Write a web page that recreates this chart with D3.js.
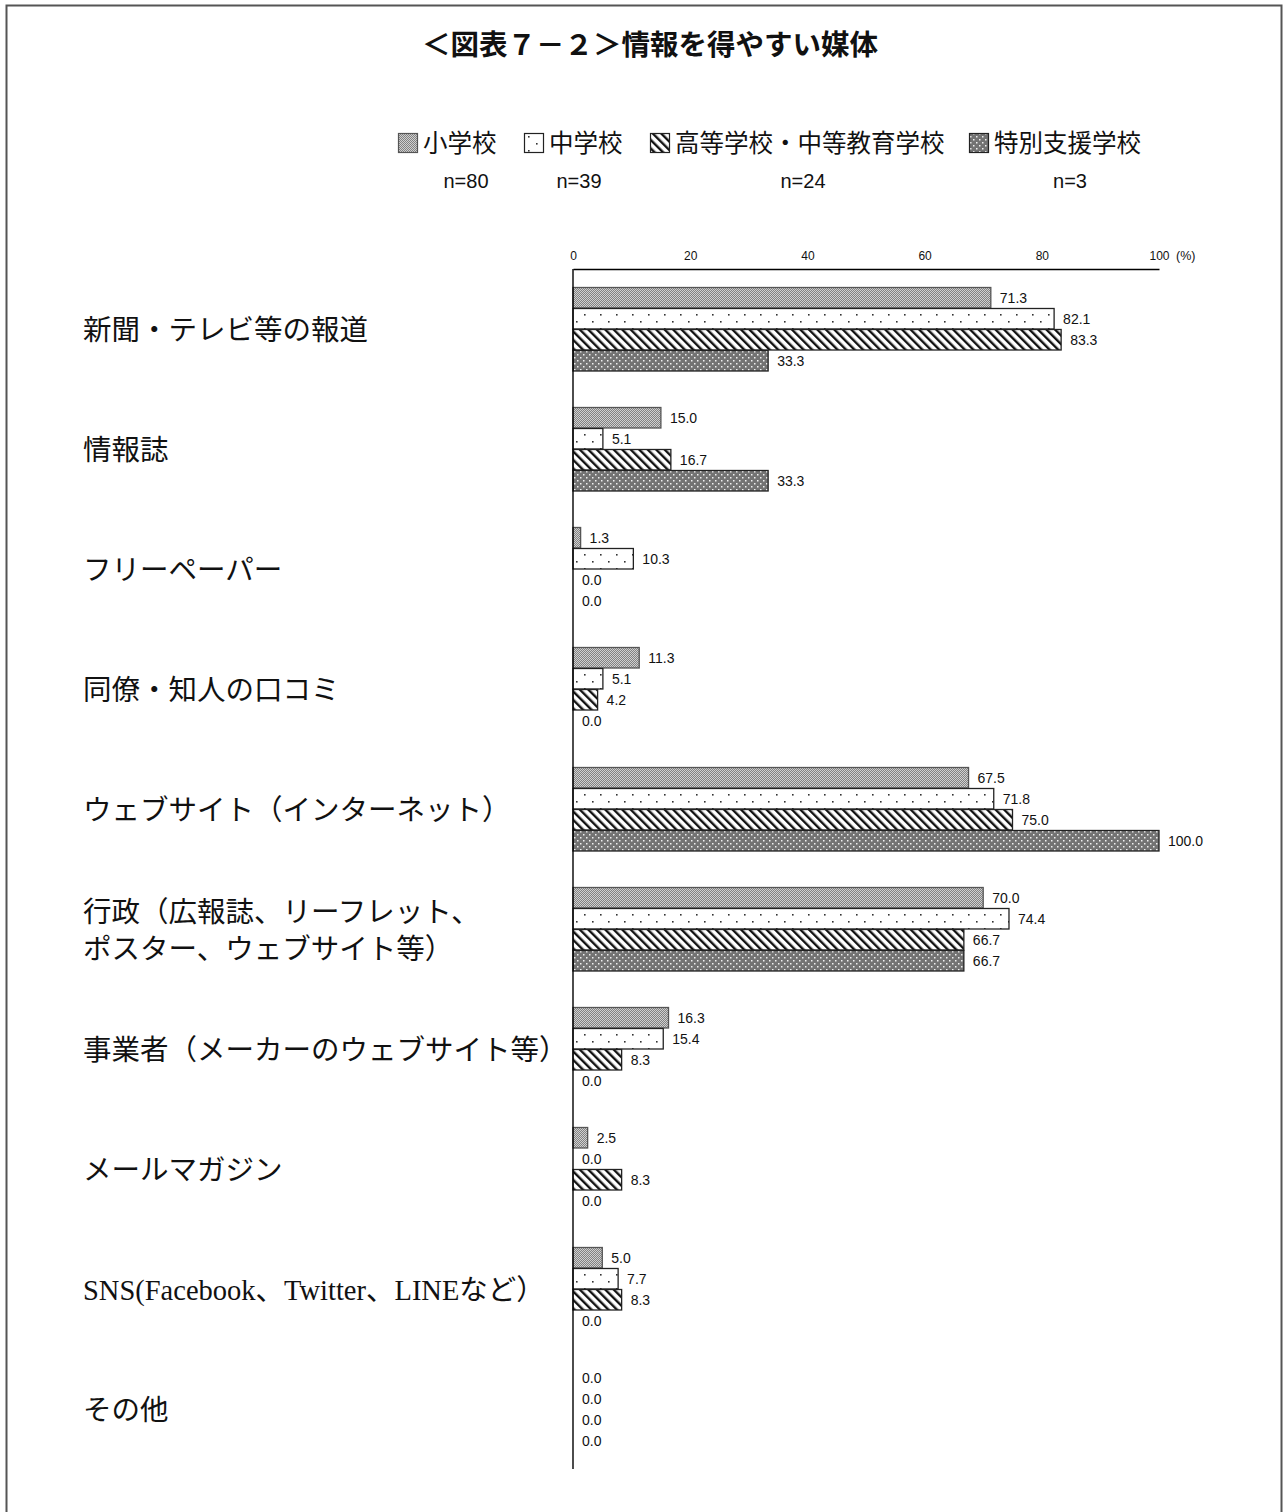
<!DOCTYPE html>
<html lang="ja">
<head>
<meta charset="utf-8">
<script src="https://cdn.jsdelivr.net/npm/d3@7"></script>
<style>
  html, body { margin: 0; padding: 0; background: #fff; }
  svg { display: block; }
</style>
</head>
<body>
<svg id="chart" width="1284" height="1512"></svg>
<script>
// Media categories (line breaks marked with \n)
const categories = [
  "新聞・テレビ等の報道",
  "情報誌",
  "フリーペーパー",
  "同僚・知人の口コミ",
  "ウェブサイト（インターネット）",
  "行政（広報誌、リーフレット、\nポスター、ウェブサイト等）",
  "事業者（メーカーのウェブサイト等）",
  "メールマガジン",
  "SNS(Facebook、Twitter、LINEなど）",
  "その他"
];
const seriesNames = ["小学校", "中学校", "高等学校・中等教育学校", "特別支援学校"];
const seriesN = ["n=80", "n=39", "n=24", "n=3"];
const elementary = [71.3, 15.0, 1.3, 11.3, 67.5, 70.0, 16.3, 2.5, 5.0, 0.0];
const juniorHigh = [82.1, 5.1, 10.3, 5.1, 71.8, 74.4, 15.4, 0.0, 7.7, 0.0];
const highSchool = [83.3, 16.7, 0.0, 4.2, 75.0, 66.7, 8.3, 8.3, 8.3, 0.0];
const specialNeeds = [33.3, 33.3, 0.0, 0.0, 100.0, 66.7, 0.0, 0.0, 0.0, 0.0];
const tickValues = [0, 20, 40, 60, 80, 100];

const seriesValues = [elementary, juniorHigh, highSchool, specialNeeds];

const svg = d3.select("#chart");
const gothic = "'Noto Sans CJK JP', 'Liberation Sans', sans-serif";
const mincho = "'Liberation Serif', 'Noto Sans CJK JP', serif";
const latin = "'Liberation Sans', Arial, sans-serif";

// ---- fill patterns ----
const defs = svg.append("defs");

// fine grey halftone
const p0 = defs.append("pattern").attr("id", "pat0").attr("patternUnits", "userSpaceOnUse")
  .attr("width", 2).attr("height", 2);
p0.append("rect").attr("width", 2).attr("height", 2).attr("fill", "#d0d0d0");
p0.append("rect").attr("width", 1).attr("height", 1).attr("fill", "#828282");
p0.append("rect").attr("x", 1).attr("y", 1).attr("width", 1).attr("height", 1).attr("fill", "#828282");

// sparse dots on white
const p1 = defs.append("pattern").attr("id", "pat1").attr("patternUnits", "userSpaceOnUse")
  .attr("width", 16).attr("height", 14);
p1.append("rect").attr("width", 16).attr("height", 14).attr("fill", "#fff");
p1.append("rect").attr("x", 8).attr("y", 3).attr("width", 1.6).attr("height", 1.6).attr("fill", "#333");
p1.append("rect").attr("x", 0).attr("y", 10).attr("width", 1.6).attr("height", 1.6).attr("fill", "#333");

// backslash diagonal hatch
const p2 = defs.append("pattern").attr("id", "pat2").attr("patternUnits", "userSpaceOnUse")
  .attr("width", 6).attr("height", 6).attr("patternTransform", "rotate(-45)");
p2.append("rect").attr("width", 6).attr("height", 6).attr("fill", "#fff");
p2.append("rect").attr("x", 0).attr("y", 0).attr("width", 2.4).attr("height", 6).attr("fill", "#111");

// dark grey with white dots
const p3 = defs.append("pattern").attr("id", "pat3").attr("patternUnits", "userSpaceOnUse")
  .attr("width", 6).attr("height", 6);
p3.append("rect").attr("width", 6).attr("height", 6).attr("fill", "#737373");
p3.append("rect").attr("x", 1).attr("y", 1).attr("width", 1.5).attr("height", 1.5).attr("fill", "#f0f0f0");
p3.append("rect").attr("x", 4).attr("y", 4).attr("width", 1.5).attr("height", 1.5).attr("fill", "#f0f0f0");

const fills = ["url(#pat0)", "url(#pat1)", "url(#pat2)", "url(#pat3)"];
const strokes = ["#555", "#222", "#222", "#222"];

// ---- outer frame ----
svg.append("rect").attr("x", 6.5).attr("y", 5.5).attr("width", 1275).attr("height", 1540)
  .attr("fill", "none").attr("stroke", "#555").attr("stroke-width", 2);

// ---- title ----
svg.append("text").attr("x", 650).attr("y", 55).attr("text-anchor", "middle")
  .attr("font-family", gothic).attr("font-size", 28.5).attr("font-weight", 700)
  .attr("fill", "#111").text("＜図表７－２＞情報を得やすい媒体");

// ---- legend ----
const legendItems = [
  { sx: 398, tx: 423, nx: 466 },
  { sx: 524, tx: 549, nx: 579 },
  { sx: 650, tx: 675, nx: 803 },
  { sx: 969, tx: 994, nx: 1070 }
];
const legend = svg.append("g");
legendItems.forEach((it, i) => {
  legend.append("rect").attr("x", it.sx + 0.5).attr("y", 133.5).attr("width", 19).attr("height", 19)
    .attr("fill", fills[i]).attr("stroke", strokes[i]).attr("stroke-width", 1.2);
  legend.append("text").attr("x", it.tx).attr("y", 152)
    .attr("font-family", gothic).attr("font-size", 24.5).attr("fill", "#111")
    .text(seriesNames[i]);
  legend.append("text").attr("x", it.nx).attr("y", 188).attr("text-anchor", "middle")
    .attr("font-family", latin).attr("font-size", 20).attr("fill", "#111")
    .text(seriesN[i]);
});

// ---- scales ----
const x = d3.scaleLinear().domain([0, 100]).range([573, 1159]);
const y = d3.scaleBand().domain(d3.range(categories.length)).range([269, 1469]);
const yInner = d3.scaleBand().domain(d3.range(seriesNames.length)).range([18, 102]);

// ---- x axis (top) ----
const axis = svg.append("g").attr("transform", "translate(0,269)")
  .call(d3.axisTop(x).tickValues(tickValues).tickSize(0).tickSizeOuter(0).tickPadding(9));
axis.select(".domain").attr("stroke", "#000").attr("stroke-width", 1.4);
axis.selectAll("text").attr("font-family", latin).attr("font-size", 12).attr("fill", "#111");
svg.append("text").attr("x", 1176).attr("y", 260)
  .attr("font-family", latin).attr("font-size", 12.5).attr("fill", "#111").text("(%)");

// ---- bars ----
const groups = svg.append("g").selectAll("g")
  .data(categories.map((c, i) => ({ c, i })))
  .join("g")
  .attr("transform", d => `translate(0,${y(d.i)})`);

groups.each(function (d) {
  const g = d3.select(this);
  seriesValues.forEach((vals, s) => {
    const v = vals[d.i];
    const y0 = yInner(s);
    if (v > 0) {
      g.append("rect")
        .attr("x", x(0))
        .attr("y", y0 + 0.5)
        .attr("width", x(v) - x(0))
        .attr("height", yInner.bandwidth() - 0.5)
        .attr("fill", fills[s])
        .attr("stroke", strokes[s])
        .attr("stroke-width", 1.3);
    }
    g.append("text")
      .attr("x", x(v) + 9)
      .attr("y", y0 + yInner.bandwidth() / 2 + 5)
      .attr("font-family", latin).attr("font-size", 14).attr("fill", "#111")
      .text(v.toFixed(1));
  });
});

// ---- category labels ----
groups.each(function (d) {
  const lines = d.c.split("\n");
  const g = d3.select(this);
  const mid = y.bandwidth() / 2;
  const lh = 37;
  lines.forEach((line, k) => {
    g.append("text")
      .attr("x", 83)
      .attr("y", mid + (k - (lines.length - 1) / 2) * lh + 11)
      .attr("font-family", mincho).attr("font-size", 28.5).attr("fill", "#111")
      .text(line);
  });
});

// ---- vertical baseline ----
svg.append("line").attr("x1", x(0)).attr("x2", x(0)).attr("y1", 269).attr("y2", 1469)
  .attr("stroke", "#000").attr("stroke-width", 1.4);
</script>
</body>
</html>
